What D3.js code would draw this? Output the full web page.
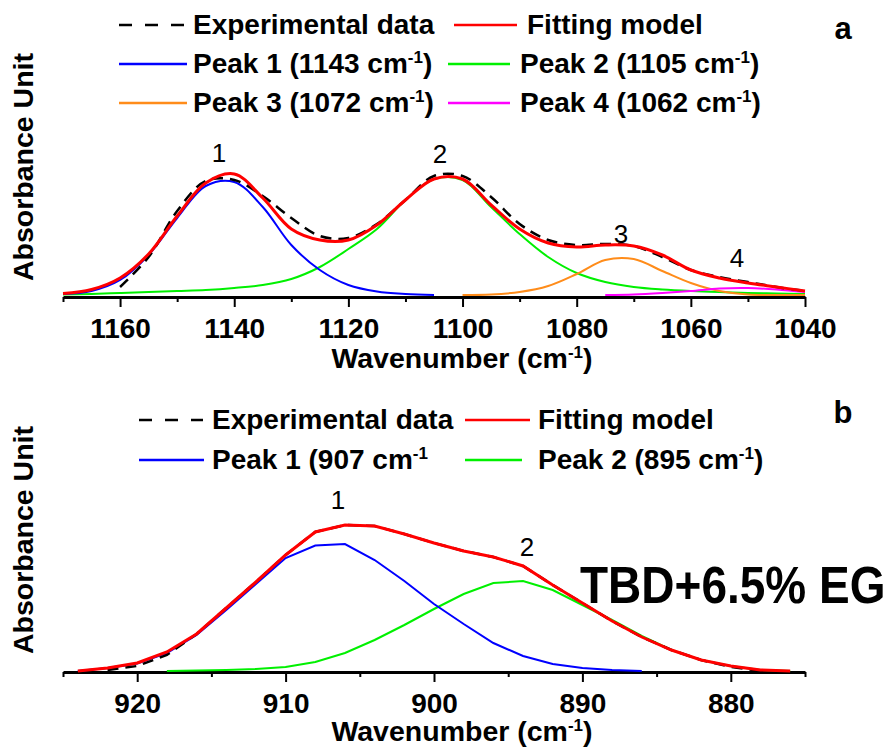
<!DOCTYPE html>
<meta charset="utf-8">
<style>
body { margin: 0; background: #fff; }
svg { display: block; font-family: "Liberation Sans", Arial, sans-serif; }
.axis-label { font-size: 28.5px; font-weight: bold; }
.tick-text { font-size: 28px; font-weight: bold; }
.legend-text { font-size: 28px; font-weight: bold; }
.peak-num { font-size: 26px; }
.panel-tag { font-size: 31px; font-weight: bold; }
</style>
<svg id="chart" width="885" height="747"></svg>
<script src="https://d3js.org/d3.v7.min.js"></script>
<script>

// ---- panel a: 1170-1040 cm-1 ----
var wnA = [1170,1165,1160,1155,1150,1145,1140,1135,1130,1125,1120,1115,1110,1105,1100,1095,1090,1085,1080,1075,1070,1065,1060,1055,1050,1045,1040];
var expA = [null,null,0.08,0.38,0.84,1.14,1.15,0.99,0.77,0.59,0.57,0.71,0.95,1.19,1.19,0.98,0.71,0.55,0.50,0.51,0.49,0.38,0.25,0.18,0.13,0.08,0.04];
var fitA = [0.015,0.055,0.17,0.41,0.79,1.12,1.21,0.97,0.66,0.55,0.55,0.70,0.95,1.16,1.16,0.90,0.66,0.52,0.48,0.50,0.49,0.40,0.25,0.17,0.12,0.08,0.04];
var peak1A = [0.01,0.04,0.15,0.40,0.77,1.09,1.13,0.88,0.50,0.25,0.10,0.035,0.01,0,null,null,null,null,null,null,null,null,null,null,null,null,null];
var peak2A = [0.005,0.01,0.02,0.03,0.04,0.05,0.07,0.10,0.16,0.28,0.46,0.66,0.95,1.16,1.15,0.88,0.61,0.38,0.22,0.13,0.08,0.055,0.04,0.03,0.02,0.015,0.01];
var peak3A = [null,null,null,null,null,null,null,null,null,null,null,null,null,null,0,0.005,0.03,0.09,0.21,0.35,0.36,0.24,0.12,0.04,0.005,0,0];
var peak4A = [null,null,null,null,null,null,null,null,null,null,null,null,null,null,null,null,null,null,null,0,0.005,0.02,0.04,0.065,0.07,0.055,0.03];
var majorA = [1160,1140,1120,1100,1080,1060,1040];
var minorA = [1170,1150,1130,1110,1090,1070,1050];

// ---- panel b: 925-875 cm-1 ----
var wnB = [924,922,920,918,916,914,912,910,908,906,904,902,900,898,896,894,892,890,888,886,884,882,880,878,876];
var expB = [null,0.01,0.05,0.16,0.37,0.63,0.89,1.16,1.39,1.46,1.45,1.37,1.28,1.20,1.14,1.05,0.86,0.68,0.50,0.34,0.21,0.11,0.04,0,null];
var fitB = [0,0.03,0.08,0.19,0.37,0.63,0.89,1.16,1.39,1.46,1.45,1.37,1.28,1.20,1.14,1.05,0.86,0.68,0.50,0.34,0.21,0.11,0.05,0.01,0];
var peak1B = [0,0.03,0.075,0.18,0.36,0.61,0.87,1.13,1.255,1.27,1.11,0.90,0.67,0.47,0.28,0.15,0.07,0.03,0.01,0,null,null,null,null,null];
var peak2B = [null,null,null,0,0.005,0.01,0.02,0.04,0.09,0.18,0.31,0.46,0.62,0.77,0.88,0.90,0.81,0.66,0.51,0.35,0.21,0.11,0.05,0.01,0];
var majorB = [920,910,900,890,880];
var minorB = [925,915,905,895,885,875];

var legendA = ["Experimental data","Fitting model","Peak 1 (1143 cm^-1)","Peak 2 (1105 cm^-1)","Peak 3 (1072 cm^-1)","Peak 4 (1062 cm^-1)"];
var legendB = ["Experimental data","Fitting model","Peak 1 (907 cm^-1","Peak 2 (895 cm^-1)"];

var colors = {exp: "#000", fit: "#ff0000", p1: "#0000ff", p2: "#00f000", p3: "#ff8c1a", p4: "#ff00ff"};

var svg = d3.select("#chart");

function richText(sel, str) {
  var parts = str.split("^-1");
  sel.append("tspan").text(parts[0]);
  if (parts.length > 1) {
    sel.append("tspan").attr("dy", -10).style("font-size", "17px").text("-1");
    sel.append("tspan").attr("dy", 10).text(parts[1]);
  }
}

function drawPanel(p) {
  var x = d3.scaleLinear().domain(p.xDomain).range([63, 805]);
  var y = d3.scaleLinear().domain([0, p.yMax]).range([p.base, p.base - p.yMax * 100]);

  // minor ticks
  svg.append("g")
      .attr("transform", "translate(0," + p.axisY + ")")
      .call(d3.axisBottom(x).tickValues(p.minor).tickSize(5).tickSizeOuter(0).tickFormat(""))
      .call(function(g) { g.select(".domain").remove(); })
      .selectAll("line").attr("stroke-width", 2);

  var ax = svg.append("g")
      .attr("transform", "translate(0," + p.axisY + ")")
      .call(d3.axisBottom(x).tickValues(p.major).tickSize(10).tickSizeOuter(0).tickFormat(d3.format("d")));
  ax.attr("font-size", null).attr("font-family", null);
  ax.select(".domain").attr("stroke-width", 2.8);
  ax.selectAll(".tick line").attr("stroke-width", 2);
  ax.selectAll(".tick text")
      .attr("class", "tick-text")
      .attr("fill", "#000")
      .attr("dy", null)
      .attr("y", 41);

  svg.append("text")
      .attr("class", "axis-label")
      .attr("x", 462)
      .attr("y", p.axisY + p.labelGap)
      .attr("text-anchor", "middle")
      .call(richText, "Wavenumber (cm^-1)");

  svg.append("text")
      .attr("class", "axis-label")
      .attr("transform", "translate(33," + p.yLabelC + ") rotate(-90)")
      .attr("text-anchor", "middle")
      .text("Absorbance Unit");

  function line(vals, curve) {
    return d3.line()
        .defined(function(d, i) { return vals[i] != null; })
        .x(function(d, i) { return x(p.wn[i]); })
        .y(function(d, i) { return y(vals[i]); })
        .curve(curve)(vals);
  }

  p.peaks.forEach(function(s) {
    svg.append("path")
        .attr("d", line(s.v, p.curve))
        .attr("fill", "none")
        .attr("stroke", s.c)
        .attr("stroke-width", 2);
  });
  svg.append("path")
      .attr("d", line(p.exp, p.curve))
      .attr("fill", "none")
      .attr("stroke", colors.exp)
      .attr("stroke-width", 2.5)
      .attr("stroke-dasharray", "11,7");
  svg.append("path")
      .attr("d", line(p.fit, p.curve))
      .attr("fill", "none")
      .attr("stroke", colors.fit)
      .attr("stroke-width", 3);

  // peak numbers
  p.nums.forEach(function(n, i) {
    svg.append("text")
        .attr("class", "peak-num")
        .attr("x", n[0])
        .attr("y", n[1])
        .attr("text-anchor", "middle")
        .text(i + 1);
  });

  // legend
  p.legend.forEach(function(lab, i) {
    var pos = p.legPos[i];
    svg.append("line")
        .attr("x1", pos[0]).attr("x2", pos[1])
        .attr("y1", pos[3] - 9).attr("y2", pos[3] - 9)
        .attr("stroke", p.legColors[i])
        .attr("stroke-width", 2.5)
        .attr("stroke-dasharray", i === 0 ? "13,13" : null);
    svg.append("text")
        .attr("class", "legend-text")
        .attr("x", pos[2])
        .attr("y", pos[3])
        .call(richText, lab);
  });

  svg.append("text")
      .attr("class", "panel-tag")
      .attr("x", 843)
      .attr("y", p.tagY)
      .attr("text-anchor", "middle")
      .text(p.tag);
}

drawPanel({
  wn: wnA, xDomain: [1170, 1040], yMax: 1.25, base: 295, axisY: 297, labelGap: 71,
  major: majorA, minor: minorA, yLabelC: 167,
  exp: expA, fit: fitA, curve: d3.curveCatmullRom,
  peaks: [{v: peak2A, c: colors.p2}, {v: peak3A, c: colors.p3}, {v: peak4A, c: colors.p4}, {v: peak1A, c: colors.p1}],
  nums: [[219, 162], [440, 163], [621, 243], [737, 267]],
  legend: legendA,
  legColors: [colors.exp, colors.fit, colors.p1, colors.p2, colors.p3, colors.p4],
  legPos: [[119,187,193,34],[454,517,527,34],[119,187,193,73],[448,510,520,73],[119,187,193,112],[448,510,520,112]],
  tag: "a", tagY: 39
});

drawPanel({
  wn: wnB, xDomain: [925, 875], yMax: 1.5, base: 671, axisY: 672, labelGap: 69,
  major: majorB, minor: minorB, yLabelC: 540,
  exp: expB, fit: fitB, curve: d3.curveLinear,
  peaks: [{v: peak2B, c: colors.p2}, {v: peak1B, c: colors.p1}],
  nums: [[338, 509], [527, 556]],
  legend: legendB,
  legColors: [colors.exp, colors.fit, colors.p1, colors.p2],
  legPos: [[139,203,212,429],[465,530,538,429],[139,204,212,469],[465,522,538,469]],
  tag: "b", tagY: 423
});

svg.append("text")
    .attr("transform", "translate(580,603) scale(1,1.12)")
    .style("font-size", "46px")
    .style("font-weight", "bold")
    .text("TBD+6.5% EG");

</script>
